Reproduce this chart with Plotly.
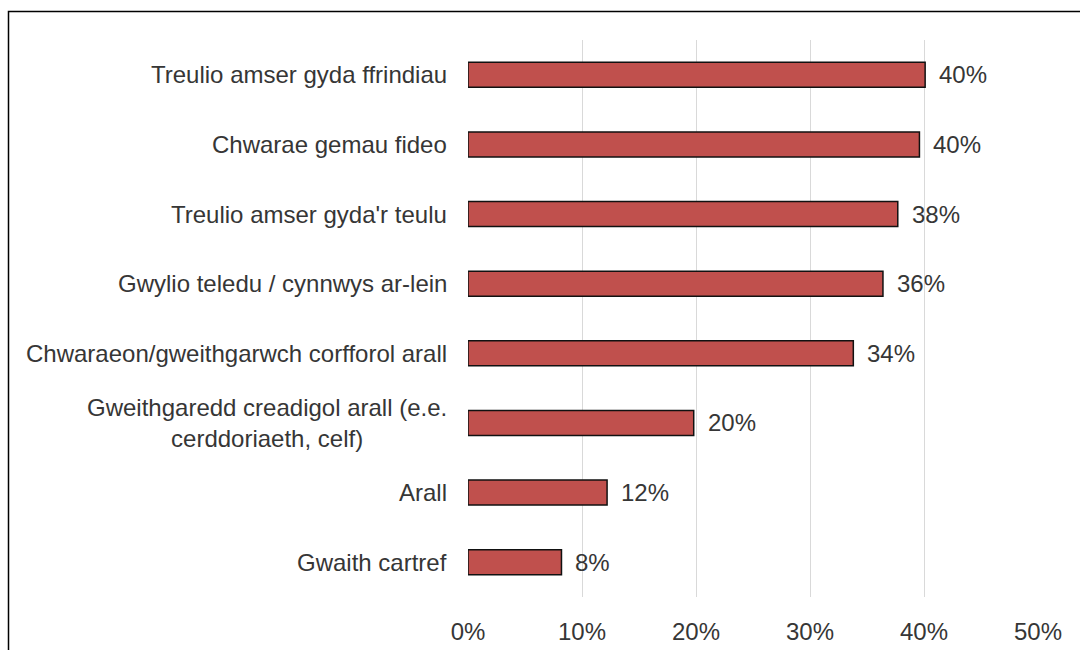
import plotly.graph_objects as go

categories = [
    "Treulio amser gyda ffrindiau",
    "Chwarae gemau fideo",
    "Treulio amser gyda'r teulu",
    "Gwylio teledu / cynnwys ar-lein",
    "Chwaraeon/gweithgarwch corfforol arall",
    "Gweithgaredd creadigol arall (e.e.<br>cerddoriaeth, celf)",
    "Arall",
    "Gwaith cartref",
]
values = [40.1, 39.6, 37.7, 36.4, 33.8, 19.8, 12.2, 8.2]
x_ticks = [0, 10, 20, 30, 40, 50]
x_tick_labels = ["0%", "10%", "20%", "30%", "40%", "50%"]

W, H = 1080, 650
ML, MR, MT, MB = 468, 42, 40, 53
FONT = "Liberation Sans, Arial, sans-serif"
TXT = "#363636"
FS = 24

fig = go.Figure()
fig.add_trace(go.Bar(
    x=values, y=categories, orientation="h",
    marker=dict(color="#C0504D", line=dict(color="#111111", width=1.5)),
    width=0.36, hoverinfo="skip",
))

# category labels (centered multi-line, right-aligned block)
for c in categories:
    fig.add_annotation(x=0, xref="paper", y=c, yref="y", text=c, showarrow=False,
                       xanchor="right", yanchor="middle", align="center", xshift=-19,
                       font=dict(family=FONT, size=FS, color=TXT))

# data labels
for c, v in zip(categories, values):
    fig.add_annotation(x=v, y=c, xref="x", yref="y", text=f"{round(v):d}%", showarrow=False,
                       xanchor="left", yanchor="middle", xshift=12,
                       font=dict(family=FONT, size=FS, color=TXT))

pw = W - ML - MR
ph = H - MT - MB
def px_to_paper_x(px):
    return (px - ML) / pw
def px_to_paper_y(py):
    return (H - MB - py) / ph

fig.add_shape(type="rect", xref="paper", yref="paper",
              x0=px_to_paper_x(8.5), x1=px_to_paper_x(1100),
              y0=px_to_paper_y(680), y1=px_to_paper_y(11.5),
              line=dict(color="#000000", width=1.5), fillcolor="rgba(0,0,0,0)", layer="below")

fig.update_layout(
    width=W, height=H,
    margin=dict(l=ML, r=MR, t=MT, b=MB, autoexpand=False),
    paper_bgcolor="white", plot_bgcolor="white",
    showlegend=False,
    font=dict(family=FONT, size=FS, color=TXT),
    xaxis=dict(range=[0, 50], tickvals=x_ticks, ticktext=x_tick_labels, automargin=False,
               showgrid=True, gridcolor="#D9D9D9", gridwidth=1, zeroline=False,
               showline=False, ticks="outside", ticklen=13, tickcolor="rgba(0,0,0,0)",
               tickfont=dict(family=FONT, size=FS, color=TXT), fixedrange=True),
    yaxis=dict(categoryorder="array", categoryarray=categories[::-1], automargin=False,
               showticklabels=False, showgrid=False, zeroline=False, showline=False,
               range=[-0.5, len(categories) - 0.5], fixedrange=True),
)

fig.write_html("out.html", config={"displayModeBar": False},
               post_script="document.body.style.margin='0px';document.body.style.overflow='hidden';")
